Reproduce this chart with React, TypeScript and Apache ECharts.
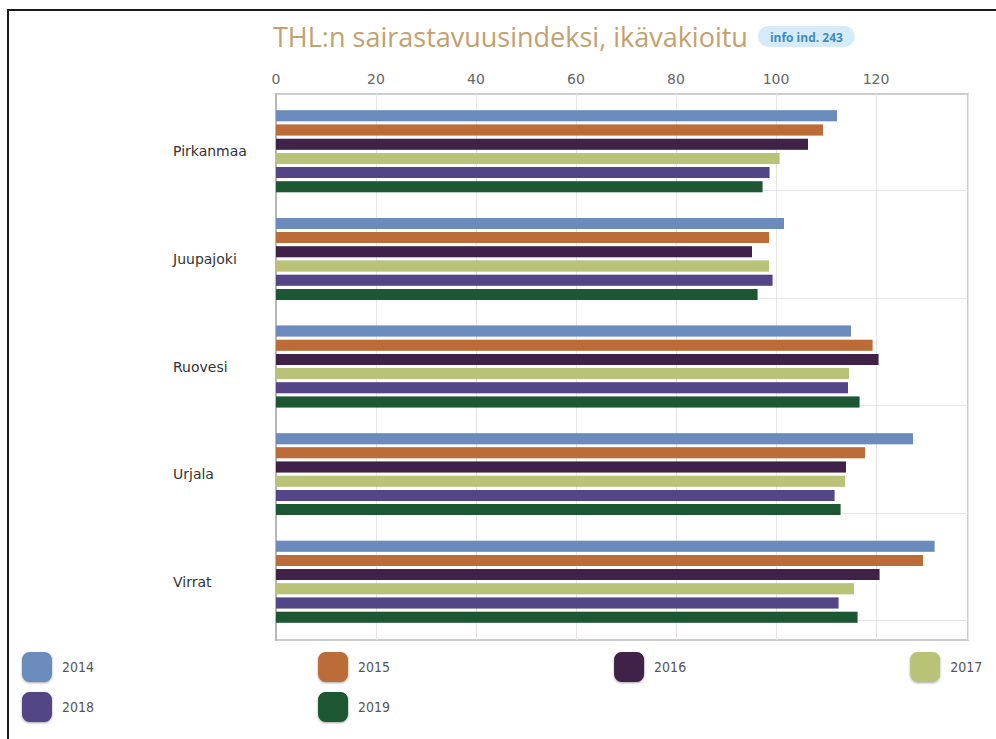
import React, { useEffect, useRef } from "react";
import * as echarts from "echarts";

const categories = ["Pirkanmaa", "Juupajoki", "Ruovesi", "Urjala", "Virrat"];
const years = ["2014", "2015", "2016", "2017", "2018", "2019"];
const colors = ["#6a8bbb", "#bb6c37", "#412048", "#bac278", "#524486", "#1b5733"];
const v2014 = [112.2, 101.6, 115.0, 127.4, 131.7];
const v2015 = [109.4, 98.6, 119.3, 117.8, 129.4];
const v2016 = [106.4, 95.2, 120.5, 114.0, 120.7];
const v2017 = [100.7, 98.6, 114.6, 113.8, 115.6];
const v2018 = [98.7, 99.3, 114.4, 111.7, 112.5];
const v2019 = [97.3, 96.3, 116.7, 112.9, 116.3];
const seriesValues = [v2014, v2015, v2016, v2017, v2018, v2019];
const xTicks = [0, 20, 40, 60, 80, 100, 120];
const xMax = 138.4;
const titleText = "THL:n sairastavuusindeksi, ikävakioitu";
const badgeText = "info ind. 243";

export default function App() {
  const ref = useRef<HTMLDivElement>(null);
  useEffect(() => {
    if (!ref.current) return;
    const chart = echarts.init(ref.current, null, { renderer: "svg" });
    const legendCommon = {
      left: 22,
      padding: 0,
      orient: "horizontal",
      itemWidth: 30,
      itemHeight: 30,
      itemGap: 224,
      icon: "roundRect",
      itemStyle: { shadowBlur: 2, shadowColor: "rgba(0,0,0,0.35)", shadowOffsetY: 1 },
      textStyle: {
        fontFamily: "DejaVu Sans Condensed, DejaVu Sans",
        fontSize: 14,
        color: "#555",
        width: 40,
        padding: [0, 0, 0, 5],
      },
    };
    chart.setOption({
      animation: false,
      backgroundColor: "#ffffff",
      color: colors,
      title: {
        left: 268,
        top: 18,
        text: `{t|${titleText}}{b|${badgeText}}`,
        textStyle: {
          fontWeight: "normal",
          rich: {
            t: {
              fontFamily: "Open Sans",
              fontSize: 27,
              fontWeight: "normal",
              color: "#c4a06e",
              padding: [0, 10, 0, 0],
            },
            b: {
              fontFamily: "Open Sans",
              fontSize: 12,
              fontWeight: "bold",
              color: "#3f8cbf",
              backgroundColor: "#d5ebf7",
              borderRadius: 11,
              padding: [5, 12, 4, 12],
            },
          },
        },
      },
      graphic: [
        {
          type: "polyline",
          shape: { points: [[8, 739], [8, 10], [996, 10]] },
          style: { stroke: "#1a1a1a", lineWidth: 2, fill: null },
          silent: true,
        },
      ],
      legend: [
        { ...legendCommon, top: 652, data: years.slice(0, 4) },
        { ...legendCommon, top: 692, data: years.slice(4) },
      ],
      grid: [
        { left: 276, top: 94, width: 692, height: 546, show: true, borderColor: "#cccccc", borderWidth: 2, backgroundColor: "transparent" },
        { left: 276, top: 97.5, width: 692, height: 538, show: false },
        { left: 276, top: 190.5, width: 692, height: 430, show: false },
      ],
      xAxis: [
        {
          gridIndex: 0,
          type: "value",
          position: "top",
          min: 0,
          max: xMax,
          interval: 20,
          axisLine: { show: false },
          axisTick: { show: false },
          splitLine: { show: true, lineStyle: { color: "#e6e6e6", width: 1 } },
          axisLabel: {
            showMaxLabel: false,
            margin: 8,
            fontFamily: "DejaVu Sans",
            fontSize: 14,
            color: "#666",
            formatter: (v: number) => (xTicks.includes(v) ? String(v) : ""),
          },
        },
        { gridIndex: 1, type: "value", min: 0, max: xMax, show: false },
        { gridIndex: 2, type: "value", min: 0, max: 1, show: false },
      ],
      yAxis: [
        {
          gridIndex: 0,
          type: "value",
          min: 0,
          max: 1,
          axisLine: { show: true, lineStyle: { color: "#b8b8b8", width: 2 } },
          axisTick: { show: false },
          axisLabel: { show: false },
          splitLine: { show: false },
        },
        {
          gridIndex: 1,
          type: "category",
          inverse: true,
          data: categories,
          axisLine: { show: false },
          axisTick: { show: false },
          splitLine: { show: false },
          axisLabel: {
            align: "left",
            margin: 103,
            fontFamily: "DejaVu Sans",
            fontSize: 14,
            color: "#333",
          },
        },
        {
          gridIndex: 2,
          type: "value",
          min: 0,
          max: 4,
          interval: 1,
          axisLine: { show: false },
          axisTick: { show: false },
          axisLabel: { show: false },
          splitLine: { show: true, lineStyle: { color: "#e6e6e6", width: 1 } },
        },
      ],
      series: years.map((y, i) => ({
        name: y,
        type: "bar",
        xAxisIndex: 1,
        yAxisIndex: 1,
        data: seriesValues[i],
        barWidth: 11,
        barGap: "29%",
        itemStyle: { color: colors[i], shadowBlur: 1, shadowColor: "rgba(0,0,0,0.25)" },
        z: 3,
      })),
    });
    return () => chart.dispose();
  }, []);
  return (
    <div
      ref={ref}
      style={{ position: "fixed", left: 0, top: 0, width: 996, height: 739 }}
    />
  );
}
